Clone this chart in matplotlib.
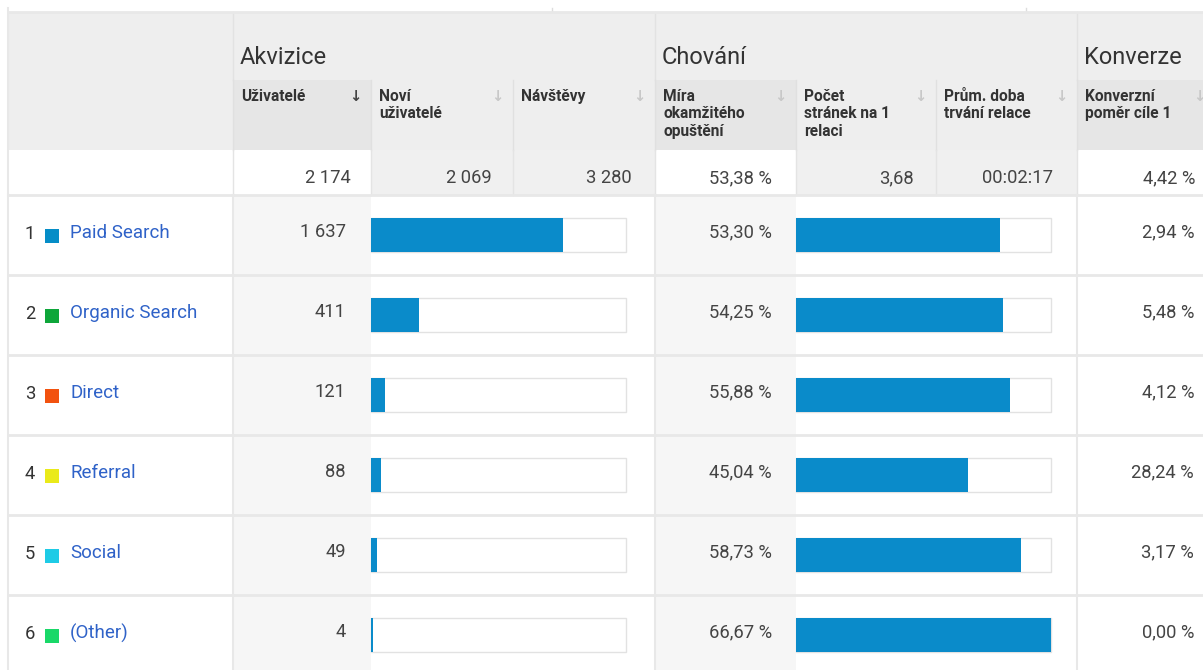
import matplotlib
matplotlib.use("Agg")
import matplotlib.pyplot as plt
from matplotlib.patches import Rectangle

plt.rcParams['font.family'] = ['Roboto', 'DejaVu Sans']

# data
channels = ['Paid Search', 'Organic Search', 'Direct', 'Referral', 'Social', '(Other)']
swatches = ['#058dc7', '#0ea63a', '#f2520f', '#eaea1a', '#1ecbe6', '#19d868']
users = [1637, 411, 121, 88, 49, 4]
bounce = [53.30, 54.25, 55.88, 45.04, 58.73, 66.67]
conversion = [2.94, 5.48, 4.12, 28.24, 3.17, 0.00]

groups = ['Akvizice', 'Chování', 'Konverze']
columns = ['Uživatelé', 'Noví\nuživatelé', 'Návštěvy', 'Míra\nokamžitého\nopuštění',
           'Počet\nstránek na 1\nrelaci', 'Prům. doba\ntrvání relace', 'Konverzní\npoměr cíle 1']
totals = ['2 174', '2 069', '3 280', '53,38 %', '3,68', '00:02:17', '4,42 %']

# layout (pixels)
W, H = 1203, 670
col_x = [8, 233, 371, 513, 655, 796, 936, 1077, 1230]
group_span = [(1, 4), (4, 7), (7, 8)]
first_of_group = [0, 3, 6]
y_h1, y_h2, y_tot, y_rows = 12, 80, 150, 195
row_h = 80
bar_h = 34
GRID = '#e8e8e8'
TXT = '#444444'
BLUE = '#0a8bca'


def fmt_int(n):
    return f"{n:,}".replace(',', ' ')


def fmt_pct(v):
    return f"{v:.2f}".replace('.', ',') + ' %'


def cell(ax, x0, x1, y0, y1, color):
    ax.add_patch(Rectangle((x0, y0), x1 - x0, y1 - y0, facecolor=color, edgecolor='none', zorder=0))


fig = plt.figure(figsize=(W / 100, H / 100), dpi=100)
ax = fig.add_axes([0, 0, 1, 1])
ax.set_xlim(0, W)
ax.set_ylim(H, 0)
ax.axis('off')

# header row 1
cell(ax, col_x[0], W, y_h1, y_h2, '#eeeeee')
for name, (a, b) in zip(groups, group_span):
    ax.text(col_x[a] + 7, 57, name, fontsize=17, color='#333333', va='center', ha='left')
    ax.plot([col_x[a], col_x[a]], [y_h1, y_h2], color='#e2e2e2', lw=1)

# header row 2
cell(ax, col_x[0], W, y_h2, y_tot, '#eeeeee')
for i, name in enumerate(columns):
    x0, x1 = col_x[i + 1], col_x[i + 2]
    if i in first_of_group:
        cell(ax, x0, x1, y_h2, y_tot, '#e6e6e6')
    ax.text(x0 + 8, 89, name, fontsize=11.2, fontweight='bold', color='#333333',
            va='top', ha='left', linespacing=1.2)
    ax.text(min(x1, 1215) - 16, 97, '↓', fontsize=10.5, fontweight='bold',
            color='#444444' if i == 0 else '#c8c8c8', va='center', ha='center')
    ax.plot([x0, x0], [y_h2, y_tot], color='#e0e0e0', lw=1)

# totals row
cell(ax, col_x[0], W, y_tot, y_rows, 'white')
tot_right = [351, 492, 632, 772, 914, 1053, 1195]
for i, val in enumerate(totals):
    x0, x1 = col_x[i + 1], col_x[i + 2]
    if i not in first_of_group:
        cell(ax, x0, x1, y_tot, y_rows, '#f0f0f0')
    ax.text(tot_right[i], 178, val, fontsize=13.2, color=TXT, va='center', ha='right')
    ax.plot([x0, x0], [y_tot, y_rows], color='#e4e4e4', lw=1)

# data rows
n = len(channels)
tops = [y_rows + row_h * k for k in range(n)]
centers = [t + 40 for t in tops]
for k in range(n):
    t = tops[k]
    cell(ax, col_x[1], col_x[2], t, t + row_h, '#f6f6f6')
    cell(ax, col_x[4], col_x[5], t, t + row_h, '#f6f6f6')
    ax.text(25, t + 39, str(k + 1), fontsize=13.2, color='#333333', va='center', ha='left')
    ax.add_patch(Rectangle((45, t + 34), 14, 14, facecolor=swatches[k], edgecolor='none'))
    ax.text(70, t + 38, channels[k], fontsize=13.5, color='#2f62c8', va='center', ha='left')
    ax.text(346, t + 37, fmt_int(users[k]), fontsize=13.2, color=TXT, va='center', ha='right')
    ax.text(772, t + 37, fmt_pct(bounce[k]), fontsize=13.2, color=TXT, va='center', ha='right')
    ax.text(1194, t + 37, fmt_pct(conversion[k]), fontsize=13.2, color=TXT, va='center', ha='right')

# bar tracks and fills
track_w = 255
total_users = 2174
ax.barh(centers, [track_w] * n, left=col_x[2], height=bar_h, color='white',
        edgecolor='#e2e2e2', linewidth=1, zorder=1)
ax.barh(centers, [max(u / total_users * track_w, 1.5) for u in users], left=col_x[2],
        height=bar_h, color=BLUE, zorder=2)
ax.barh(centers, [track_w] * n, left=col_x[5], height=bar_h, color='white',
        edgecolor='#e2e2e2', linewidth=1, zorder=1)
ax.barh(centers, [b / max(bounce) * track_w for b in bounce], left=col_x[5],
        height=bar_h, color=BLUE, zorder=2)

# grid lines
for y in [y_h1, y_rows] + tops[1:] + [tops[-1] + row_h]:
    ax.plot([col_x[0], W], [y, y], color=GRID, lw=2, zorder=3)
for x in [col_x[0], col_x[1], col_x[4], col_x[7]]:
    ax.plot([x, x], [y_rows, H], color=GRID, lw=1.5, zorder=3)
ax.plot([col_x[0], col_x[0]], [8, y_rows], color=GRID, lw=1.5, zorder=3)
for x in [552, 1026]:
    ax.plot([x, x], [8, y_h1], color='#dddddd', lw=1)

fig.savefig('out.png', dpi=100)
